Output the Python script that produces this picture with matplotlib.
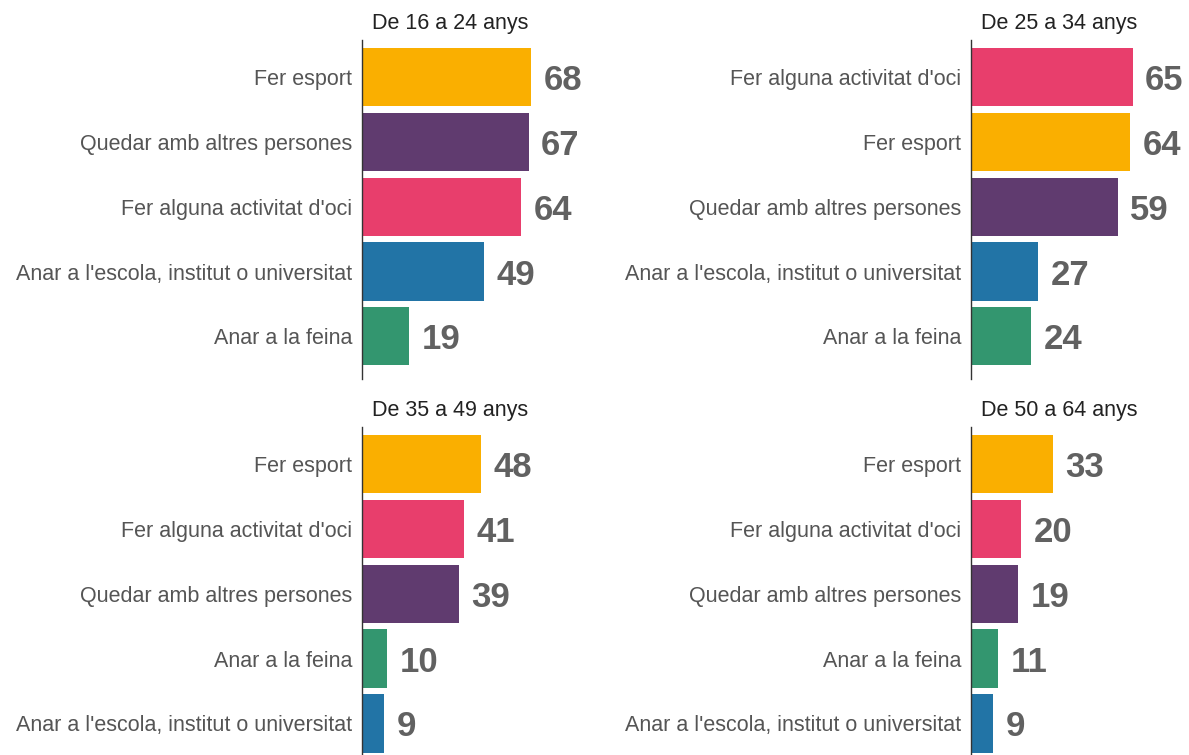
import matplotlib
matplotlib.use("Agg")
import matplotlib.pyplot as plt

# Percentages per age group, top to bottom as shown
titles = ["De 16 a 24 anys", "De 25 a 34 anys", "De 35 a 49 anys", "De 50 a 64 anys"]

labels_16_24 = ["Fer esport", "Quedar amb altres persones", "Fer alguna activitat d'oci",
                "Anar a l'escola, institut o universitat", "Anar a la feina"]
values_16_24 = [68, 67, 64, 49, 19]

labels_25_34 = ["Fer alguna activitat d'oci", "Fer esport", "Quedar amb altres persones",
                "Anar a l'escola, institut o universitat", "Anar a la feina"]
values_25_34 = [65, 64, 59, 27, 24]

labels_35_49 = ["Fer esport", "Fer alguna activitat d'oci", "Quedar amb altres persones",
                "Anar a la feina", "Anar a l'escola, institut o universitat"]
values_35_49 = [48, 41, 39, 10, 9]

labels_50_64 = ["Fer esport", "Fer alguna activitat d'oci", "Quedar amb altres persones",
                "Anar a la feina", "Anar a l'escola, institut o universitat"]
values_50_64 = [33, 20, 19, 11, 9]

color_map = {
    "Fer esport": "#FAAF00",
    "Quedar amb altres persones": "#603B6F",
    "Fer alguna activitat d'oci": "#E83E6C",
    "Anar a l'escola, institut o universitat": "#2274A6",
    "Anar a la feina": "#33966F",
}

plt.rcParams['font.family'] = ['Liberation Sans', 'DejaVu Sans']

fig = plt.figure(figsize=(11.89, 7.55), dpi=100)

# axes boxes in figure fractions: [left, bottom, width, height]
boxes = [
    [0.3045, 0.4974, 0.182, 0.4497],
    [0.8167, 0.4974, 0.182, 0.4497],
    [0.3045, -0.0153, 0.182, 0.4497],
    [0.8167, -0.0153, 0.182, 0.4497],
]
panels = [
    (labels_16_24, values_16_24),
    (labels_25_34, values_25_34),
    (labels_35_49, values_35_49),
    (labels_50_64, values_50_64),
]

for box, title, (labels, values) in zip(boxes, titles, panels):
    ax = fig.add_axes(box)
    ypos = list(range(len(labels)))
    colors = [color_map[l] for l in labels]
    ax.barh(ypos, values, height=0.9, color=colors)
    for y, v in zip(ypos, values):
        ax.annotate(str(v), (v, y), xytext=(9, 0), textcoords="offset points",
                    ha="left", va="center_baseline", fontsize=25, fontweight="bold", color="#616161")
    ax.set_xlim(0, 87)
    ax.set_ylim(4.666, -0.574)
    ax.set_yticks(ypos)
    ax.set_yticklabels(labels, fontsize=15.5, color="#555555")
    ax.tick_params(axis="y", length=0, pad=7)
    ax.set_xticks([])
    for s in ["top", "right", "bottom"]:
        ax.spines[s].set_visible(False)
    ax.spines["left"].set_color("#333333")
    ax.spines["left"].set_linewidth(1)
    ax.text(0.046, 1.018, title, transform=ax.transAxes, ha="left", va="bottom",
            fontsize=15.5, color="#222222")

fig.savefig("out.png", dpi=100)
